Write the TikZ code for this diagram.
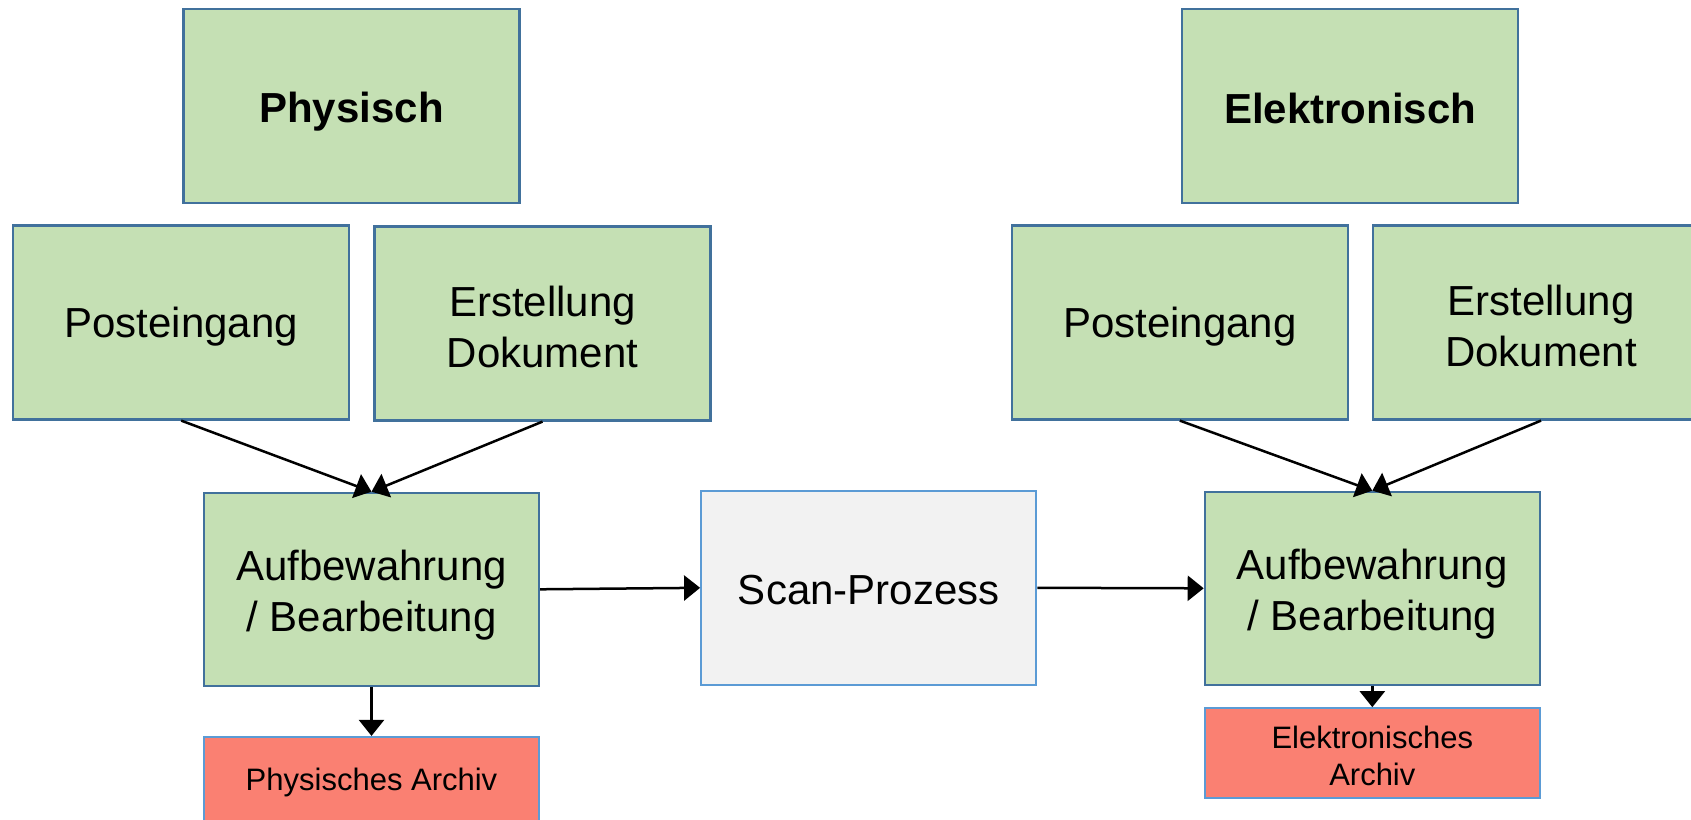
\documentclass[tikz,border=0pt]{standalone}
\usepackage{fontspec}
\setmainfont{Liberation Sans}
\usetikzlibrary{arrows.meta}
\definecolor{gfill}{HTML}{C5E0B4}
\definecolor{gline}{HTML}{41719C}
\definecolor{sfill}{HTML}{F2F2F2}
\definecolor{sline}{HTML}{5B9BD5}
\definecolor{rfill}{HTML}{FA8072}
\newcommand{\dn}[2][4.5pt]{\raisebox{-#1}[\height][\depth]{#2}}
\tikzset{
  gbox/.style={draw=gline, fill=gfill, line width=2.2pt, rectangle, inner sep=0pt,
    minimum width=336pt, minimum height=194pt, align=center,
    font=\fontsize{42}{51}\selectfont},
  sbox/.style={gbox, draw=sline, fill=sfill},
  abox/.style={draw=sline, fill=rfill, line width=2.2pt, rectangle, inner sep=0pt,
    minimum width=335pt, minimum height=90pt, align=center,
    font=\fontsize{31}{37}\selectfont},
  arr/.style={line width=2.5pt, -{Triangle[length=16pt, width=25pt]}}
}
\begin{document}
\begin{tikzpicture}[x=1pt,y=-1pt]
\useasboundingbox (0,0) rectangle (1691,819);
% left side
\node[gbox, font=\fontsize{42}{51}\selectfont\bfseries] (phys) at (351.5,105.6) {\dn[6pt]{Physisch}};
\node[gbox] (postL) at (181.2,322.5) {\dn{Posteingang}};
\node[gbox] (erstL) at (542.5,323.5) {\dn[3pt]{Erstellung}\\\dn[3pt]{Dokument}};
\node[gbox, minimum width=335pt, minimum height=193pt] (aufL) at (371.5,589.3) {\dn[5.5pt]{Aufbewahrung}\\\dn[5.5pt]{/ Bearbeitung}};
\node[abox] (archL) at (371.5,782) {Physisches Archiv};
% middle
\node[sbox, minimum width=335pt] (scan) at (868.7,587.8) {\dn[2.5pt]{Scan-Prozess}};
% right side
\node[gbox, font=\fontsize{42}{51}\selectfont\bfseries] (elek) at (1350.2,105.6) {\dn[2.5pt]{Elektronisch}};
\node[gbox] (postR) at (1179.8,322.5) {\dn{Posteingang}};
\node[gbox] (erstR) at (1541,322.5) {\dn[3pt]{Erstellung}\\\dn[3pt]{Dokument}};
\node[gbox, minimum width=335pt, minimum height=193pt] (aufR) at (1372.3,588.3) {\dn[5.5pt]{Aufbewahrung}\\\dn[5.5pt]{/ Bearbeitung}};
\node[abox] (archR) at (1372.3,753.3) {\dn[2.5pt]{Elektronisches}\\\dn[2.5pt]{Archiv}};
% connectors
\draw[arr] (postL.south) -- (aufL.north);
\draw[arr] (erstL.south) -- (aufL.north);
\draw[arr] (aufL.south) -- (archL.north);
\draw[arr] (aufL.east) -- (scan.west);
\draw[arr] (scan.east) -- (aufR.west);
\draw[arr] (postR.south) -- (aufR.north);
\draw[arr] (erstR.south) -- (aufR.north);
\draw[arr] (aufR.south) -- (archR.north);
\end{tikzpicture}
\end{document}
